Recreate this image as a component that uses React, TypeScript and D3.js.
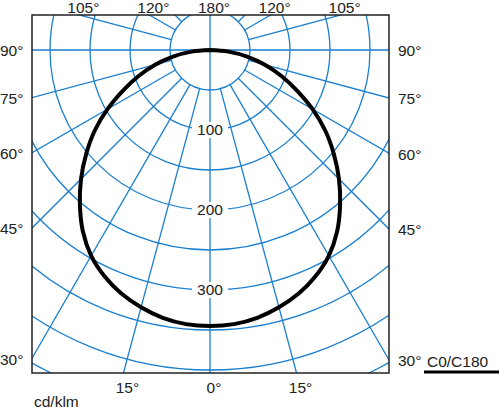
import * as d3 from 'd3';

// polar grid in cd/klm, origin at the lamp
const ringValues = [50, 100, 150, 200, 250, 300, 350, 400, 450, 500];
const ringLabels = [100, 200, 300];
const spokeAngles = d3.range(0, 360, 15);

// C0/C180 intensity (cd/klm) by gamma angle, symmetric
const gammaDeg = [0, 5, 10, 15, 20, 25, 30, 35, 40, 45, 50, 55, 60, 65, 70, 75, 80, 85, 90];
const intensity = [345, 344, 340, 333, 324, 312, 297, 277, 253, 228, 202, 176, 148, 120, 95, 71, 47, 23, 0];

const leftLabels = [90, 75, 60, 45, 30];
const bottomLabels = [-15, 0, 15];
const topLabels = [-105, -120, 180, 120, 105];

const W = 500;
const H = 409;
const frame = { left: 32, top: 15, right: 389, bottom: 373 };
const cx = 210;
const cy = 50;
const blue = '#1a7fcf';
const font = '"Liberation Sans", Arial, sans-serif';

export default function App() {
  const r = d3.scaleLinear().domain([0, 100]).range([0, 80]);
  const rad = (d: number) => (d * Math.PI) / 180;

  // gamma measured from straight down; negative = C180 side (left)
  const pts: [number, number][] = [];
  for (let i = gammaDeg.length - 1; i > 0; i--) pts.push([-gammaDeg[i], intensity[i]]);
  for (let i = 0; i < gammaDeg.length; i++) pts.push([gammaDeg[i], intensity[i]]);

  const curve = d3
    .lineRadial<[number, number]>()
    .angle((d) => Math.PI - rad(d[0]))
    .radius((d) => r(d[1]))
    .curve(d3.curveCatmullRom)(pts);

  const innerR = r(ringValues[0]);
  const fw = frame.right - frame.left;
  const fh = frame.bottom - frame.top;

  const leftPos = (g: number) => {
    const t = (cx - frame.left) / Math.sin(rad(g));
    return cy + t * Math.cos(rad(g));
  };
  const rightPos = (g: number) => {
    const t = (frame.right - cx) / Math.sin(rad(g));
    return cy + t * Math.cos(rad(g));
  };
  const bottomPos = (g: number) => cx + (frame.bottom - cy) * Math.tan(rad(g));
  const topPos = (g: number) => {
    if (Math.abs(g) === 180) return cx;
    const t = (frame.top - cy) / Math.cos(rad(g));
    return cx + t * Math.sin(rad(g));
  };

  const txt = { fontFamily: font, fontSize: 15.5, fill: '#222' };

  return (
    <svg width={W} height={H} style={{ position: 'absolute', left: 0, top: 0, background: '#fff' }}>
      <defs>
        <clipPath id="plot">
          <rect x={frame.left} y={frame.top} width={fw} height={fh} />
        </clipPath>
      </defs>
      <g clipPath="url(#plot)" fill="none" stroke={blue} strokeWidth={1.3}>
        {ringValues.map((v) => (
          <circle key={v} cx={cx} cy={cy} r={r(v)} />
        ))}
        {spokeAngles
          .filter((a) => a % 90 !== 0)
          .map((a) => (
            <line
              key={a}
              x1={cx + innerR * Math.sin(rad(a))}
              y1={cy + innerR * Math.cos(rad(a))}
              x2={cx + 700 * Math.sin(rad(a))}
              y2={cy + 700 * Math.cos(rad(a))}
            />
          ))}
        <line x1={frame.left} x2={frame.right} y1={cy} y2={cy} />
        <line x1={cx} x2={cx} y1={frame.top} y2={frame.bottom} />
      </g>
      {ringLabels.map((v) => (
        <g key={v}>
          <rect x={cx - 18} y={cy + r(v) - 8} width={36} height={16} fill="#fff" />
          <text x={cx} y={cy + r(v)} dy="0.35em" textAnchor="middle" {...txt}>
            {v}
          </text>
        </g>
      ))}
      <path d={curve ?? ''} transform={`translate(${cx},${cy})`} fill="none" stroke="#000" strokeWidth={4} />
      <rect x={frame.left} y={frame.top} width={fw} height={fh} fill="none" stroke="#222" strokeWidth={1.5} />
      {leftLabels.map((g) => (
        <text key={'l' + g} x={0} y={leftPos(g) + 1} dy="0.35em" {...txt}>
          {g}°
        </text>
      ))}
      {leftLabels.map((g) => (
        <text key={'r' + g} x={398} y={rightPos(g) + 1} dy="0.35em" {...txt}>
          {g}°
        </text>
      ))}
      {bottomLabels.map((g) => (
        <text key={'b' + g} x={bottomPos(g) + 4} y={393} textAnchor="middle" {...txt}>
          {Math.abs(g)}°
        </text>
      ))}
      {topLabels.map((g) => (
        <text key={'t' + g} x={topPos(g) + 4} y={13} textAnchor="middle" {...txt}>
          {Math.abs(g)}°
        </text>
      ))}
      <text x={34} y={407} {...txt}>
        cd/klm
      </text>
      <text x={427} y={367} {...txt}>
        C0/C180
      </text>
      <line x1={424} x2={499} y1={372} y2={372} stroke="#000" strokeWidth={3} />
    </svg>
  );
}
